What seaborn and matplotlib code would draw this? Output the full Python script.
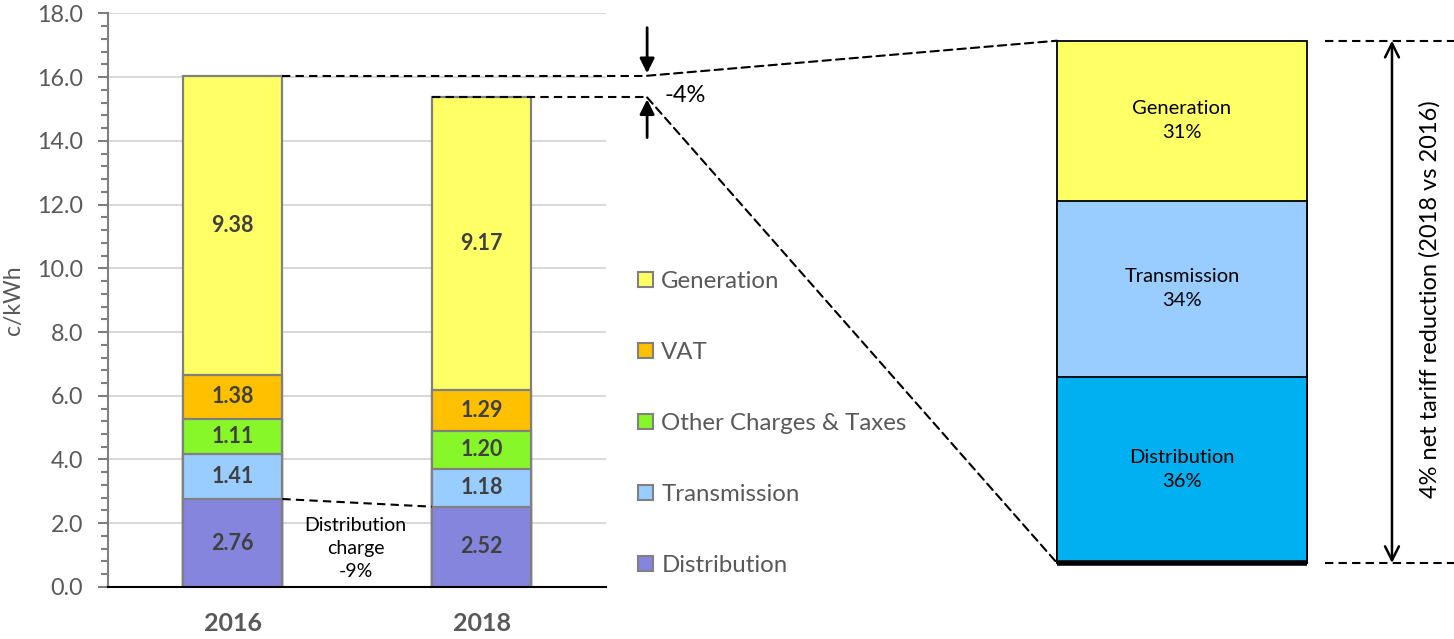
import pandas as pd
import matplotlib.pyplot as plt
import matplotlib.ticker as mticker
from matplotlib.patches import Patch, ConnectionPatch
import seaborn as sns

# data
years = ["2016", "2018"]
components = ["Distribution", "Transmission", "Other Charges & Taxes", "VAT", "Generation"]
distribution = [2.76, 2.52]
transmission = [1.41, 1.18]
other_charges = [1.11, 1.20]
vat = [1.38, 1.29]
generation = [9.38, 9.17]
comp_colors = ["#8585DD", "#99CCFF", "#88F72A", "#FFC000", "#FFFF66"]

share_parts = ["Distribution", "Transmission", "Generation"]
share_values = [36, 34, 31]
share_colors = ["#00B0F0", "#99CCFF", "#FFFF66"]

sns.set_style("white")
plt.rcParams["font.family"] = ["Lato", "DejaVu Sans"]

rows = []
for comp, vals in zip(components, [distribution, transmission, other_charges, vat, generation]):
    for yr, v in zip(years, vals):
        rows.append({"year": yr, "component": comp, "value": v})
df = pd.DataFrame(rows)
df["top"] = df.groupby("year")["value"].cumsum()
df["bottom"] = df["top"] - df["value"]

fig = plt.figure(figsize=(14.54, 6.39), dpi=100)
ax1 = fig.add_axes([0.0743, 0.0814, 0.3425, 0.8978])
ax2 = fig.add_axes([0.7270, 0.1189, 0.1719, 0.8174])

# stacked bars: draw cumulative heights from the tallest down
for comp, col in reversed(list(zip(components, comp_colors))):
    sub = df[df["component"] == comp]
    sns.barplot(data=sub, x="year", y="top", color=col, width=0.4, saturation=1,
                edgecolor="#808080", linewidth=1.6, errorbar=None, ax=ax1)

for _, r in df.iterrows():
    xi = years.index(r["year"])
    ax1.text(xi, r["bottom"] + r["value"] / 2, f"{r['value']:.2f}", ha="center", va="center",
             fontsize=15.5, fontweight="bold", color="#404040")

ax1.set_xlim(-0.5, 1.5)
ax1.set_ylim(0, 18)
ax1.set_axisbelow(True)
ax1.yaxis.set_major_locator(mticker.MultipleLocator(2))
ax1.yaxis.set_minor_locator(mticker.MultipleLocator(0.4))
ax1.yaxis.set_major_formatter(mticker.FormatStrFormatter("%.1f"))
ax1.grid(axis="y", color="#d9d9d9", linewidth=1.5)
ax1.tick_params(axis="y", which="major", direction="out", length=7, width=1.5, color="#7f7f7f",
                labelsize=16.8, labelcolor="#595959", pad=11, left=True)
ax1.tick_params(axis="y", which="minor", direction="out", length=5, width=1.5, color="#7f7f7f", left=True)
ax1.tick_params(axis="x", length=0, labelsize=18, labelcolor="#595959", pad=18)
for lbl in ax1.get_xticklabels():
    lbl.set_fontweight("bold")
ax1.set_xlabel("")
ax1.set_ylabel("c/kWh", fontsize=16.5, color="#595959", labelpad=9)
for s in ["top", "right"]:
    ax1.spines[s].set_visible(False)
ax1.spines["left"].set_color("#7f7f7f")
ax1.spines["left"].set_linewidth(1.5)
ax1.spines["bottom"].set_color("black")
ax1.spines["bottom"].set_linewidth(1.5)

dash = (0, (4, 2.5))
tot16 = df[df["year"] == "2016"]["top"].max()
tot18 = df[df["year"] == "2018"]["top"].max()
xj = 1.665
ax1.plot([0.2, xj], [tot16, tot16], color="black", lw=1.5, ls=dash, clip_on=False)
ax1.plot([0.8, xj], [tot18, tot18], color="black", lw=1.5, ls=dash, clip_on=False)
ax1.plot([0.2, 0.8], [distribution[0], distribution[1]], color="black", lw=1.5, ls=dash)
ax1.text(0.494, 1.2, "Distribution\ncharge\n-9%", ha="center", va="center", fontsize=14,
         linespacing=1.42, color="black")

ax1.annotate("", xy=(xj, tot16 + 0.08), xytext=(xj, 17.55), annotation_clip=False,
             arrowprops=dict(arrowstyle="-|>", color="black", lw=2, mutation_scale=22,
                             shrinkA=0, shrinkB=0))
ax1.annotate("", xy=(xj, tot18 - 0.06), xytext=(xj, 14.1), annotation_clip=False,
             arrowprops=dict(arrowstyle="-|>", color="black", lw=2, mutation_scale=22,
                             shrinkA=0, shrinkB=0))
ax1.text(1.735, 15.42, "-4%", ha="left", va="center", fontsize=17, color="black", clip_on=False)

handles = [Patch(facecolor=c, edgecolor="#808080", linewidth=1.5, label=l)
           for l, c in reversed(list(zip(components, comp_colors)))]
fig.legend(handles=handles, loc="upper left", bbox_to_anchor=(638 / 1454, 1 - 271 / 639),
           frameon=False, fontsize=17.3, labelcolor="#595959", handlelength=0.64, handleheight=0.64,
           handletextpad=0.33, labelspacing=2.08, borderpad=0, borderaxespad=0)

# right panel: split of the reduction
sdf = pd.DataFrame({"part": share_parts, "share": share_values})
sdf["top"] = sdf["share"].cumsum()
sdf["bottom"] = sdf["top"] - sdf["share"]
sdf["x"] = "cut"
for i in reversed(range(len(sdf))):
    sns.barplot(data=sdf.iloc[[i]], x="x", y="top", color=share_colors[i], width=1, saturation=1,
                edgecolor="black", linewidth=1.3, errorbar=None, ax=ax2)
for p in ax2.patches:
    p.set_clip_on(False)
for _, r in sdf.iterrows():
    ax2.text(0, r["bottom"] + r["share"] / 2, f"{r['part']}\n{r['share']}%", ha="center", va="center",
             fontsize=14.5, linespacing=1.5, color="black")
stot = sdf["top"].max()
ax2.set_xlim(-0.5, 0.5)
ax2.set_ylim(0, stot)
ax2.axis("off")
ax2.plot([-0.5, 0.5], [0, 0], color="black", lw=4, clip_on=False, solid_capstyle="butt")

ax2.plot([0.572, 1.09], [stot, stot], color="black", lw=1.5, ls=dash, clip_on=False)
ax2.plot([0.572, 1.09], [0, 0], color="black", lw=1.5, ls=dash, clip_on=False)
ax2.annotate("", xy=(0.84, stot), xytext=(0.84, 0), annotation_clip=False,
             arrowprops=dict(arrowstyle="<->", color="black", lw=1.8, mutation_scale=25,
                             shrinkA=0, shrinkB=0))
ax2.text(0.99, stot / 2 + 0.5, "4% net tariff reduction (2018 vs 2016)", rotation=90, ha="center",
         va="center", fontsize=17, color="black", clip_on=False)

for ya, yb in [(tot16, stot), (tot18, 0)]:
    con = ConnectionPatch(xyA=(xj, ya), coordsA=ax1.transData, xyB=(-0.5, yb), coordsB=ax2.transData,
                          color="black", lw=1.5, ls=dash)
    fig.add_artist(con)

fig.savefig("out.png", dpi=100, facecolor="white")
